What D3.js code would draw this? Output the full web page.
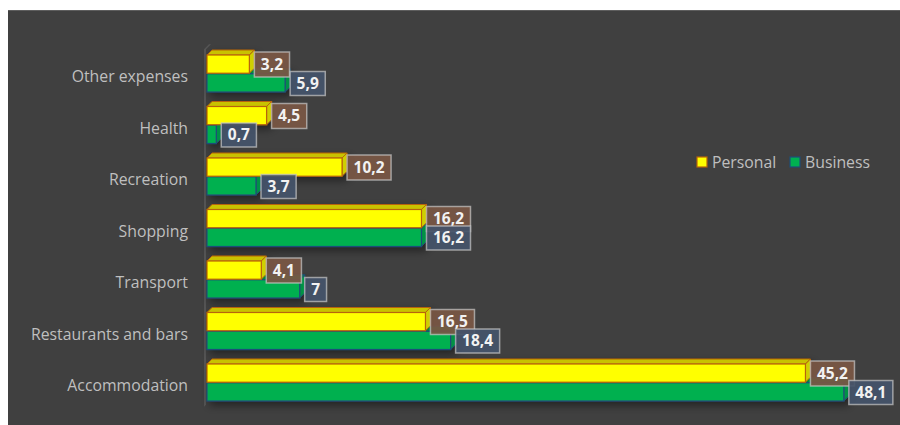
<!DOCTYPE html>
<html><head><meta charset="utf-8">
<script src="https://cdn.jsdelivr.net/npm/d3@7"></script>
<style>
html,body{margin:0;padding:0;background:#fff;}
svg{display:block;}
</style></head>
<body>
<svg id="chart" width="900" height="425"></svg>
<script>
const categories = ["Other expenses","Health","Recreation","Shopping","Transport","Restaurants and bars","Accommodation"];
const personal = [3.2, 4.5, 10.2, 16.2, 4.1, 16.5, 45.2];
const business = [5.9, 0.7, 3.7, 16.2, 7, 18.4, 48.1];
const seriesNames = ["Personal","Business"];

const svg = d3.select("#chart");
const W = 900, H = 425;
const font = "'Open Sans', 'Noto Sans', sans-serif";

// background
svg.append("rect").attr("x",8).attr("y",10).attr("width",W-8).attr("height",H-10).attr("fill","#404040");
svg.append("line").attr("x1",8).attr("x2",W).attr("y1",10.5).attr("y2",10.5).attr("stroke","#5e5e5e").attr("stroke-width",1);

const defs = svg.append("defs");
const f = defs.append("filter").attr("id","shadow").attr("x","-10%").attr("y","-50%").attr("width","130%").attr("height","250%");
f.append("feDropShadow").attr("dx",3).attr("dy",4).attr("stdDeviation",4).attr("flood-color","#000").attr("flood-opacity",0.45);

const x = d3.scaleLinear().domain([0, 50]).range([207, 207 + 50*13.24]);
const y = d3.scaleBand().domain(categories).range([48.25, 408.75]).padding(0);
const sub = d3.scaleBand().domain(seriesNames).range([-19, 18]).paddingInner(0.03);

const dx = 5, dy = 5;

// axis wall
const yTop = y.range()[0] - 4, yBot = y.range()[1] - 4;
svg.append("path")
  .attr("d", `M${x(0)-3},${yTop+dy} L${x(0)-3+dx},${yTop} L${x(0)+dx-1},${yTop} L${x(0)-1},${yTop+dy} L${x(0)-1},${yBot} L${x(0)-3},${yBot+2} Z`)
  .attr("fill","#555555");

const styles = {
  Personal: {front:"#ffff00", top:"#c9c200", side:"#cfcf00", stroke:"#b8640a", box:"#7a5744"},
  Business: {front:"#00b050", top:"#008a3e", side:"#009244", stroke:"#1f4e79", box:"#44546a"}
};

function drawBar(g, x0, x1, yy, h, s){
  g.append("path").attr("d", `M${x0},${yy} L${x0+dx},${yy-dy} L${x1+dx},${yy-dy} L${x1},${yy} Z`)
    .attr("fill", s.top).attr("stroke", s.stroke).attr("stroke-width",1).attr("stroke-linejoin","round");
  g.append("path").attr("d", `M${x1},${yy} L${x1+dx},${yy-dy} L${x1+dx},${yy+h-dy} L${x1},${yy+h} Z`)
    .attr("fill", s.side).attr("stroke", s.stroke).attr("stroke-width",1).attr("stroke-linejoin","round");
  g.append("rect").attr("x", x0).attr("y", yy).attr("width", Math.max(0, x1-x0)).attr("height", h)
    .attr("fill", s.front).attr("stroke", s.stroke).attr("stroke-width",1.2);
}

const barsG = svg.append("g").attr("filter","url(#shadow)");
const data = categories.map((c,i)=>({cat:c, Personal:personal[i], Business:business[i]}));

// draw business first, then personal on top
["Business","Personal"].forEach(sn=>{
  data.forEach(d=>{
    const c = y(d.cat) + y.bandwidth()/2;
    const yy = c + sub(sn);
    drawBar(barsG, x(0), x(d[sn]), yy, sub.bandwidth(), styles[sn]);
  });
});

// category labels
svg.append("g").selectAll("text").data(categories).join("text")
  .attr("x", 188).attr("y", d => y(d) + y.bandwidth()/2 + 2)
  .attr("text-anchor","end").attr("dominant-baseline","central")
  .attr("font-family", font).attr("font-size", 15.8).attr("fill","#bfbfbf")
  .text(d=>d);

// value labels
const fmt = v => String(v).replace(".", ",");
const labG = svg.append("g");
["Personal","Business"].forEach(sn=>{
  data.forEach(d=>{
    const c = y(d.cat) + y.bandwidth()/2;
    const cy = sn === "Personal" ? c - 9.5 : c + 9.5;
    const lx = x(d[sn]) + 5;
    const g = labG.append("g");
    const t = g.append("text").attr("x", 0).attr("y", cy - 1)
      .attr("dominant-baseline","central")
      .attr("font-family", font).attr("font-weight","bold").attr("font-size", 15.5).attr("fill","#f2f2f2")
      .text(fmt(d[sn]));
    const tw = t.node().getComputedTextLength();
    const bw = tw + 13, bh = sn === "Personal" ? 25 : 24;
    g.insert("rect","text").attr("x", lx).attr("y", cy - bh/2).attr("width", bw).attr("height", bh)
      .attr("fill", styles[sn].box).attr("fill-opacity",0.92)
      .attr("stroke","#c8c8c8").attr("stroke-opacity",0.7).attr("stroke-width",1.5);
    t.attr("x", lx + bw/2).attr("text-anchor","middle");
  });
});

// legend
const leg = svg.append("g");
const legX = [697, 790];
seriesNames.forEach((sn,i)=>{
  leg.append("rect").attr("x", legX[i]).attr("y", 157).attr("width", 10).attr("height", 10)
    .attr("fill", styles[sn].front).attr("stroke", styles[sn].stroke).attr("stroke-width",1.2);
  leg.append("text").attr("x", legX[i] + 15).attr("y", 162).attr("dominant-baseline","central")
    .attr("font-family", font).attr("font-size", 15.8).attr("fill","#bfbfbf").text(sn);
});
</script>
</body></html>
